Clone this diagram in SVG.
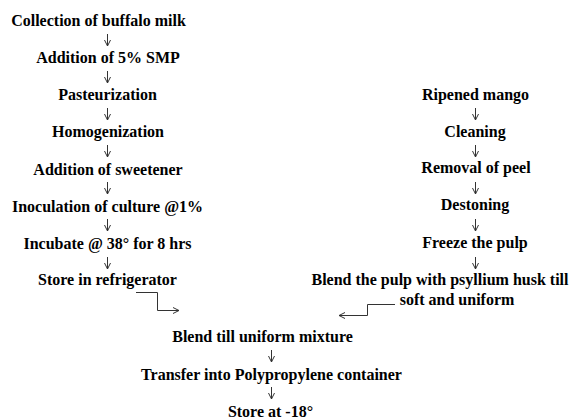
<svg xmlns="http://www.w3.org/2000/svg" width="573" height="419" viewBox="0 0 573 419">
<style>
text{font-family:"Liberation Serif","Times New Roman",serif;font-weight:bold;font-size:16px;fill:#000;text-anchor:middle}
.c{fill:none;stroke:#333;stroke-width:1}
</style>
<defs>
<marker id="ah" viewBox="0 0 8 8" refX="7" refY="4" markerWidth="8" markerHeight="8" markerUnits="userSpaceOnUse" orient="auto">
<path d="M1,1 L7,4 L1,7" fill="none" stroke="#333" stroke-width="1"/>
</marker>
</defs>
<rect width="573" height="419" fill="#fff"/>
<g id="n1"><text x="98.5" y="26">Collection of buffalo milk</text></g>
<g id="n2"><text x="108" y="63">Addition of 5% SMP</text></g>
<g id="n3"><text x="107.5" y="100">Pasteurization</text></g>
<g id="n4"><text x="108" y="137">Homogenization</text></g>
<g id="n5"><text x="108" y="175">Addition of sweetener</text></g>
<g id="n6"><text x="107.5" y="212">Inoculation of culture @1%</text></g>
<g id="n7"><text x="107.5" y="249">Incubate @ 38° for 8 hrs</text></g>
<g id="n8"><text x="107.5" y="285">Store in refrigerator</text></g>
<g id="m1"><text x="475.5" y="100">Ripened mango</text></g>
<g id="m2"><text x="475" y="137">Cleaning</text></g>
<g id="m3"><text x="476" y="173">Removal of peel</text></g>
<g id="m4"><text x="475" y="210">Destoning</text></g>
<g id="m5"><text x="475" y="248">Freeze the pulp</text></g>
<g id="m6"><text x="440" y="285">Blend the pulp with psyllium husk till</text><text x="457" y="305">soft and uniform</text></g>
<g id="b1"><text x="262.5" y="342">Blend till uniform mixture</text></g>
<g id="b2"><text x="271.5" y="380">Transfer into Polypropylene container</text></g>
<g id="b3"><text x="270.5" y="417">Store at -18°</text></g>
<g id="connectors">
<path class="c" marker-end="url(#ah)" d="M107.5,34 V46"/>
<path class="c" marker-end="url(#ah)" d="M107.5,71 V83"/>
<path class="c" marker-end="url(#ah)" d="M107.5,108 V120"/>
<path class="c" marker-end="url(#ah)" d="M107.5,145 V157"/>
<path class="c" marker-end="url(#ah)" d="M107.5,182 V194"/>
<path class="c" marker-end="url(#ah)" d="M107.5,219 V231"/>
<path class="c" marker-end="url(#ah)" d="M107.5,257 V269"/>
<path class="c" marker-end="url(#ah)" d="M475.5,108 V120"/>
<path class="c" marker-end="url(#ah)" d="M475.5,145 V157"/>
<path class="c" marker-end="url(#ah)" d="M475.5,182 V194"/>
<path class="c" marker-end="url(#ah)" d="M475.5,219 V231"/>
<path class="c" marker-end="url(#ah)" d="M475.5,257 V269"/>
<path class="c" marker-end="url(#ah)" d="M271.5,350 V362"/>
<path class="c" marker-end="url(#ah)" d="M271.5,387 V399"/>
<path class="c" marker-end="url(#ah)" d="M136,292.5 H157.5 V310.5 H179"/>
<path class="c" marker-end="url(#ah)" d="M395,304.5 H367.5 V315.5 H339"/>
</g>
</svg>
